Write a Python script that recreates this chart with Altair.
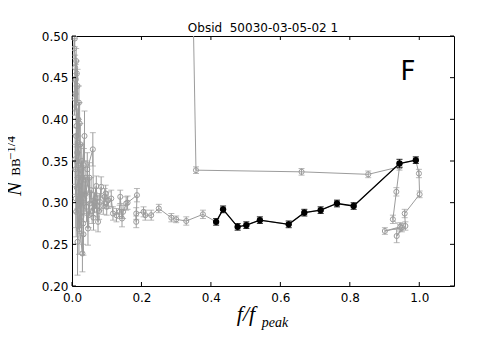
import altair as alt
import pandas as pd

# ---- data ----
# early phase (grey, open circles)
early_x = [0.008, 0.006, 0.012, 0.009, 0.010, 0.014, 0.011, 0.016, 0.007, 0.013,
           0.018, 0.012, 0.020, 0.015, 0.013, 0.022, 0.017, 0.010, 0.009, 0.024,
           0.019, 0.016, 0.014, 0.018, 0.028, 0.012, 0.023, 0.026, 0.011, 0.030,
           0.027, 0.021, 0.020, 0.034, 0.033, 0.032, 0.029, 0.036, 0.025, 0.035,
           0.040, 0.042, 0.046, 0.038, 0.050, 0.051, 0.044, 0.060, 0.062, 0.055,
           0.048, 0.065, 0.072, 0.058, 0.070, 0.075, 0.068, 0.080, 0.084, 0.078,
           0.090, 0.094, 0.097, 0.104, 0.100, 0.113, 0.118, 0.128, 0.137, 0.139,
           0.144, 0.147, 0.156, 0.160, 0.187, 0.185, 0.185, 0.206, 0.211, 0.228,
           0.250, 0.286, 0.300, 0.329, 0.377]
early_y = [0.497, 0.485, 0.470, 0.462, 0.431, 0.455, 0.448, 0.440, 0.425, 0.415,
           0.400, 0.380, 0.420, 0.360, 0.392, 0.395, 0.372, 0.340, 0.352, 0.370,
           0.345, 0.253, 0.318, 0.330, 0.350, 0.289, 0.298, 0.310, 0.305, 0.239,
           0.283, 0.320, 0.268, 0.345, 0.262, 0.275, 0.330, 0.380, 0.300, 0.305,
           0.330, 0.295, 0.269, 0.310, 0.330, 0.299, 0.340, 0.364, 0.282, 0.315,
           0.285, 0.300, 0.296, 0.290, 0.320, 0.277, 0.305, 0.301, 0.319, 0.290,
           0.296, 0.307, 0.311, 0.303, 0.295, 0.305, 0.287, 0.285, 0.289, 0.307,
           0.281, 0.289, 0.299, 0.300, 0.309, 0.277, 0.287, 0.289, 0.285, 0.285,
           0.293, 0.282, 0.280, 0.278, 0.286]
early_err = [0.010, 0.012, 0.015, 0.015, 0.020, 0.015, 0.018, 0.020, 0.020, 0.025,
             0.020, 0.030, 0.020, 0.030, 0.025, 0.025, 0.025, 0.030, 0.030, 0.025,
             0.025, 0.040, 0.030, 0.030, 0.020, 0.030, 0.025, 0.030, 0.035, 0.022,
             0.020, 0.025, 0.030, 0.020, 0.025, 0.025, 0.020, 0.030, 0.030, 0.020,
             0.020, 0.018, 0.020, 0.020, 0.018, 0.015, 0.020, 0.020, 0.015, 0.015,
             0.015, 0.012, 0.013, 0.015, 0.012, 0.012, 0.012, 0.010, 0.012, 0.010,
             0.010, 0.010, 0.010, 0.010, 0.010, 0.010, 0.008, 0.008, 0.008, 0.008,
             0.010, 0.008, 0.008, 0.008, 0.008, 0.007, 0.007, 0.006, 0.006, 0.006,
             0.005, 0.005, 0.004, 0.005, 0.005]

# highlighted phase (black, filled circles)
black_x = [0.415, 0.435, 0.477, 0.502, 0.541, 0.624, 0.669, 0.716, 0.763, 0.811, 0.943, 0.990]
black_y = [0.277, 0.292, 0.271, 0.273, 0.279, 0.274, 0.288, 0.291, 0.299, 0.296, 0.347, 0.351]
black_err = [0.004, 0.004, 0.004, 0.004, 0.004, 0.004, 0.004, 0.004, 0.004, 0.004, 0.005, 0.004]

# late phase (grey, open circles)
late_x = [0.999, 1.001, 0.958, 0.960, 0.935, 0.950, 0.901, 0.945, 0.924, 0.934,
          0.943, 0.853, 0.661, 0.357, 0.345]
late_y = [0.335, 0.310, 0.287, 0.272, 0.260, 0.270, 0.266, 0.271, 0.280, 0.313,
          0.343, 0.334, 0.337, 0.339, 0.620]
late_err = [0.005, 0.004, 0.005, 0.005, 0.008, 0.005, 0.004, 0.005, 0.005, 0.005,
            0.004, 0.004, 0.004, 0.004, 0.010]

x_ticks = [0.0, 0.2, 0.4, 0.6, 0.8, 1.0]
y_ticks = [0.20, 0.25, 0.30, 0.35, 0.40, 0.45, 0.50]

title_text = "Obsid\u00a0 50030-03-05-02 1"

# ---- tables ----
gx = early_x + black_x + late_x
gy = early_y + black_y + late_y
ge = early_err + black_err + late_err
grey = pd.DataFrame({"x": gx, "y": gy, "e": ge, "i": list(range(len(gx)))})
black = pd.DataFrame({"x": black_x, "y": black_y, "e": black_err,
                      "i": list(range(len(black_x)))})
xt = pd.DataFrame({"x": x_ticks})
yt = pd.DataFrame({"y": y_ticks})

W, H = 382, 250
GREY = "#9c9c9c"

xs = alt.Scale(domain=[0, 1.1], nice=False, zero=False)
ys = alt.Scale(domain=[0.2, 0.5], nice=False, zero=False)

xaxis = alt.Axis(values=x_ticks, format=".1f", ticks=False, domain=False, grid=False,
                 labelPadding=6, labelFontSize=12, labelFont="DejaVu Sans",
                 labelColor="black", labelFlush=False, labelOverlap=False, title=None)
yaxis = alt.Axis(values=y_ticks, format=".2f", ticks=False, domain=False, grid=False,
                 labelPadding=4, labelFontSize=12, labelFont="DejaVu Sans",
                 labelColor="black", labelFlush=False, labelOverlap=False, title=None)


def X(f="x"):
    return alt.X(f + ":Q", scale=xs, axis=xaxis)


def Y(f="y"):
    return alt.Y(f + ":Q", scale=ys, axis=yaxis)


def series(df, color, filled, size, lw):
    base = alt.Chart(df).transform_calculate(lo="datum.y - datum.e", hi="datum.y + datum.e")
    line = base.mark_line(color=color, strokeWidth=lw, clip=True).encode(
        x=X(), y=Y(), order=alt.Order("i:Q"))
    bar = base.mark_rule(color=color, strokeWidth=1, clip=True).encode(
        x=X(), y=Y("lo"), y2="hi:Q")
    cap1 = base.mark_tick(color=color, orient="horizontal", size=6, thickness=1, clip=True).encode(
        x=X(), y=Y("lo"))
    cap2 = base.mark_tick(color=color, orient="horizontal", size=6, thickness=1, clip=True).encode(
        x=X(), y=Y("hi"))
    if filled:
        pts = base.mark_point(shape="circle", filled=True, color=color, size=size,
                              opacity=1, clip=True).encode(x=X(), y=Y())
    else:
        pts = base.mark_point(shape="circle", filled=False, color=color, size=size,
                              strokeWidth=1, opacity=1, clip=True).encode(x=X(), y=Y())
    return [line, bar, cap1, cap2, pts]


grey_layers = series(grey, GREY, False, 26, 1)
black_layers = series(black, "black", True, 40, 1.3)

# inward ticks on all four sides
tick_b = alt.Chart(xt).mark_rule(color="black").encode(
    x=X(), y=alt.value(H), y2=alt.value(H - 4))
tick_t = alt.Chart(xt).mark_rule(color="black").encode(
    x=X(), y=alt.value(0), y2=alt.value(4))
tick_l = alt.Chart(yt).mark_rule(color="black").encode(
    y=Y(), x=alt.value(0), x2=alt.value(4))
tick_r = alt.Chart(yt).mark_rule(color="black").encode(
    y=Y(), x=alt.value(W), x2=alt.value(W - 4))

# annotations
one = pd.DataFrame({"a": [0]})
title = alt.Chart(one).mark_text(text=title_text, fontSize=12, font="DejaVu Sans",
                                 align="center", baseline="alphabetic", color="black").encode(
    x=alt.value(W / 2), y=alt.value(-4))
panel = alt.Chart(one).mark_text(text="F", fontSize=26, font="DejaVu Sans",
                                 align="center", baseline="middle", color="black").encode(
    x=alt.value(336), y=alt.value(36))
ylab_n = alt.Chart(one).mark_text(text="N", fontSize=21, font="Liberation Serif",
                                  fontStyle="italic", angle=270, align="center",
                                  baseline="middle", color="black").encode(
    x=alt.value(-57), y=alt.value(153))
ylab_bb = alt.Chart(one).mark_text(text="BB", fontSize=13, font="Liberation Serif",
                                   angle=270, align="center", baseline="middle",
                                   color="black").encode(
    x=alt.value(-56), y=alt.value(131))
ylab_sup = alt.Chart(one).mark_text(text="\u22121/4", fontSize=13, font="Liberation Serif",
                                    angle=270, align="center", baseline="middle",
                                    color="black").encode(
    x=alt.value(-61), y=alt.value(112))
xlab_f = alt.Chart(one).mark_text(text="f/f", fontSize=22, font="Liberation Serif",
                                  fontStyle="italic", align="center", baseline="middle",
                                  color="black").encode(
    x=alt.value(174), y=alt.value(278))
xlab_peak = alt.Chart(one).mark_text(text="peak", fontSize=14, font="Liberation Serif",
                                     fontStyle="italic", align="center", baseline="middle",
                                     color="black").encode(
    x=alt.value(203), y=alt.value(287))

chart = alt.layer(
    *grey_layers, *black_layers, tick_b, tick_t, tick_l, tick_r,
    title, panel, ylab_n, ylab_bb, ylab_sup, xlab_f, xlab_peak
).properties(
    width=W, height=H,
    background="white",
    autosize=alt.AutoSizeParams(type="none"),
    padding={"left": 64, "top": 28, "right": 16, "bottom": 64},
).configure_view(stroke="black", strokeWidth=1)

chart.save("out.html", embed_options={"renderer": "svg", "actions": False})
